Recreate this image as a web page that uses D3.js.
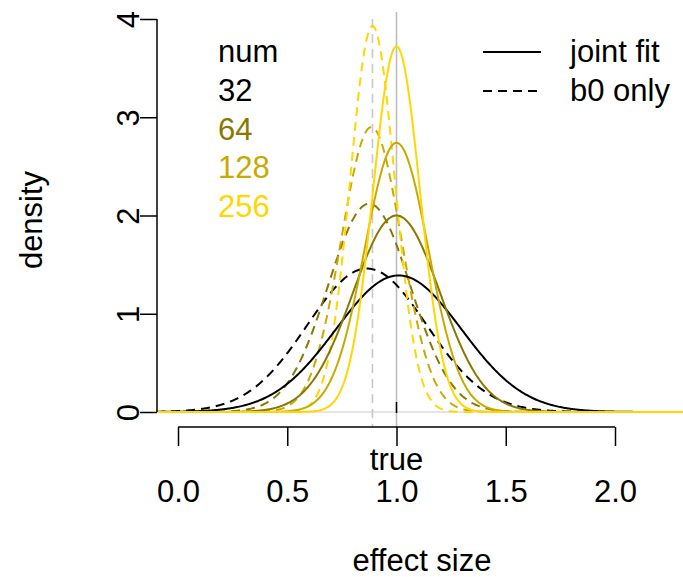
<!DOCTYPE html>
<html>
<head>
<meta charset="utf-8">
<script src="https://cdn.jsdelivr.net/npm/d3@7"></script>
<style>
  body { margin: 0; background: #fff; }
  text { font-family: "Liberation Sans", Arial, sans-serif; }
</style>
</head>
<body>
<div id="vis"></div>
<script>
// sample sizes and the fitted normal curves (mean, peak height)
const nums = [32, 64, 128, 256];
const jointMean = [1.01, 1.0, 1.0, 1.0];
const jointPeak = [1.39, 2.0, 2.74, 3.72];
const b0Mean = [0.865, 0.875, 0.885, 0.89];
const b0Peak = [1.46, 2.12, 2.9, 3.93];
const trueValue = 1.0;
const b0Ref = 0.89;
const xTicks = [0, 0.5, 1, 1.5, 2];
const yTicks = [0, 1, 2, 3, 4];

const colors = ["#000000", "#8a7800", "#c9a900", "#ffd700"];

const width = 683, height = 577;
const fontSize = 31;
const dash = "9,6";

const x = d3.scaleLinear().domain([0, 2]).range([178, 615]);
const y = d3.scaleLinear().domain([0, 4]).range([412, 19]);

const svg = d3.select("div#vis").append("svg").attr("width", width).attr("height", height);

const sdFromPeak = p => 1 / (p * Math.sqrt(2 * Math.PI));
const dnorm = (v, m, s) => Math.exp(-0.5 * ((v - m) / s) ** 2) / (s * Math.sqrt(2 * Math.PI));

const grid = d3.range(-0.1, 2.42, 0.005);
const line = d3.line().x(d => x(d[0])).y(d => y(d[1]));

// baseline and reference lines
svg.append("line").attr("x1", 157).attr("x2", width).attr("y1", y(0)).attr("y2", y(0))
  .attr("stroke", "#dcdcdc").attr("stroke-width", 1.3);
svg.append("line").attr("x1", x(trueValue)).attr("x2", x(trueValue)).attr("y1", 12).attr("y2", 427)
  .attr("stroke", "#bdbdbd").attr("stroke-width", 1.6);
svg.append("line").attr("x1", x(b0Ref)).attr("x2", x(b0Ref)).attr("y1", 19).attr("y2", 427)
  .attr("stroke", "#c8c8c8").attr("stroke-width", 1.6).attr("stroke-dasharray", dash);

const curves = [];
nums.forEach((n, i) => {
  curves.push({dash: true, color: colors[i], m: b0Mean[i], s: sdFromPeak(b0Peak[i])});
});
nums.forEach((n, i) => {
  curves.push({dash: false, color: colors[i], m: jointMean[i], s: sdFromPeak(jointPeak[i])});
});

svg.selectAll("path.curve").data(curves).enter()
  .append("path")
  .attr("class", "curve")
  .attr("fill", "none")
  .attr("stroke", d => d.color)
  .attr("stroke-width", 2)
  .attr("stroke-dasharray", d => d.dash ? dash : null)
  .attr("d", d => line(grid.map(v => [v, dnorm(v, d.m, d.s)])));

// x axis
const xa = svg.append("g").attr("transform", "translate(0,427)")
  .call(d3.axisBottom(x).tickValues(xTicks).tickSize(19).tickFormat(d3.format(".1f")));
xa.select(".domain").attr("d", `M${x(0)},0H${x(2)}`);
xa.selectAll("line, path").attr("stroke", "#000").attr("stroke-width", 1.5);
xa.selectAll("text").attr("font-size", fontSize).attr("fill", "#000")
  .attr("font-family", "Liberation Sans, Arial, sans-serif")
  .attr("y", 75).attr("dy", 0);

// y axis
const ya = svg.append("g").attr("transform", "translate(157,0)")
  .call(d3.axisLeft(y).tickValues(yTicks).tickSize(17).tickPadding(0).tickFormat(d3.format("d")));
ya.select(".domain").attr("d", `M0,${y(0)}V${y(4)}`);
ya.selectAll("line, path").attr("stroke", "#000").attr("stroke-width", 1.5);
ya.selectAll("text")
  .attr("font-size", fontSize).attr("fill", "#000").attr("font-family", "Liberation Sans, Arial, sans-serif")
  .attr("text-anchor", "middle").attr("x", 0).attr("dy", 0)
  .attr("transform", "translate(-18,0) rotate(-90)");

// "true" marker
svg.append("line").attr("x1", x(trueValue)).attr("x2", x(trueValue)).attr("y1", 402).attr("y2", 413)
  .attr("stroke", "#000").attr("stroke-width", 1.5);
svg.append("text").attr("x", x(trueValue)).attr("y", 470).attr("text-anchor", "middle")
  .attr("font-size", fontSize).text("true");

// axis titles
svg.append("text").attr("x", 422).attr("y", 571).attr("text-anchor", "middle")
  .attr("font-size", fontSize).text("effect size");
svg.append("text").attr("transform", "translate(42,220) rotate(-90)").attr("text-anchor", "middle")
  .attr("font-size", fontSize).text("density");

// num legend
svg.append("text").attr("x", 218).attr("y", 62).attr("font-size", fontSize).text("num");
svg.selectAll("text.num").data(nums).enter()
  .append("text").attr("class", "num")
  .attr("x", 218).attr("y", (d, i) => 101 + i * 38.5)
  .attr("font-size", fontSize).attr("fill", (d, i) => colors[i])
  .text(d => d);

// line type legend
const lt = [{label: "joint fit", dash: null}, {label: "b0 only", dash: dash}];
lt.forEach((d, i) => {
  const yy = 52 + i * 39;
  svg.append("line").attr("x1", 483).attr("x2", 541).attr("y1", yy).attr("y2", yy)
    .attr("stroke", "#000").attr("stroke-width", 2).attr("stroke-dasharray", d.dash);
  svg.append("text").attr("x", 570).attr("y", yy + 10).attr("font-size", fontSize).text(d.label);
});
</script>
</body>
</html>
